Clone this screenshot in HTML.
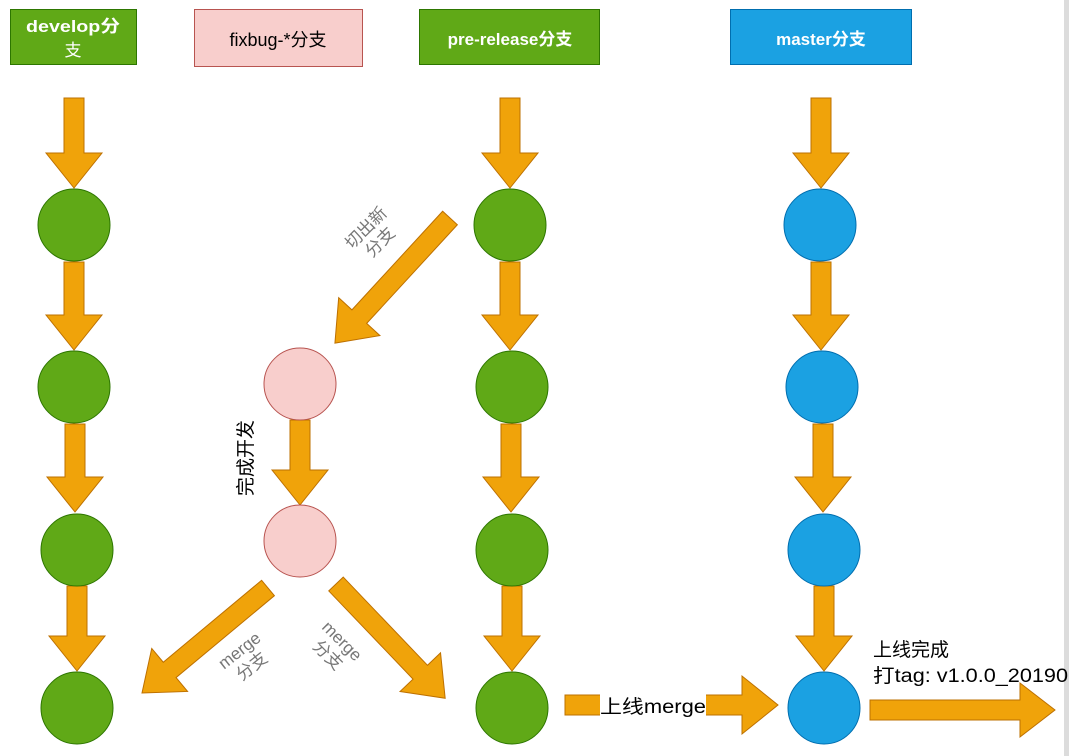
<!DOCTYPE html>
<html><head><meta charset="utf-8"><style>
html,body{margin:0;padding:0;background:#fff;}
svg{display:block;}
text{font-family:"Liberation Sans","Noto Sans CJK SC",sans-serif;}
</style></head><body>
<svg width="1069" height="756" viewBox="0 0 1069 756" xmlns="http://www.w3.org/2000/svg">
<rect x="1064" y="0" width="5" height="756" fill="#dcdcdc"/>
<!-- headers -->
<rect x="10.5" y="9.5" width="126" height="55" fill="#60a917" stroke="#2d7600"/>
<text x="73" y="32" font-size="17" font-weight="bold" fill="#fff" text-anchor="middle" textLength="94" lengthAdjust="spacingAndGlyphs">develop分</text>
<text x="73" y="56" font-size="17" fill="#fff" text-anchor="middle">支</text>
<rect x="194.5" y="9.5" width="168" height="57" fill="#f8cecc" stroke="#b85450"/>
<text x="278" y="46" font-size="18" fill="#000" text-anchor="middle">fixbug-*分支</text>
<rect x="419.5" y="9.5" width="180" height="55" fill="#60a917" stroke="#2d7600"/>
<text x="510" y="45" font-size="17" font-weight="bold" fill="#fff" text-anchor="middle">pre-release分支</text>
<rect x="730.5" y="9.5" width="181" height="55" fill="#1ba1e2" stroke="#006eaf"/>
<text x="821" y="45" font-size="17" font-weight="bold" fill="#fff" text-anchor="middle">master分支</text>

<g fill="#f0a30a" stroke="#bd7000" stroke-width="1">
<g transform="translate(74,98) rotate(90)"><polygon points="0,-10 55,-10 55,-28 90,0 55,28 55,10 0,10"/></g>
<g transform="translate(74,262) rotate(90)"><polygon points="0,-10 53,-10 53,-28 88,0 53,28 53,10 0,10"/></g>
<g transform="translate(75,424) rotate(90)"><polygon points="0,-10 53,-10 53,-28 88,0 53,28 53,10 0,10"/></g>
<g transform="translate(77,586) rotate(90)"><polygon points="0,-10 50,-10 50,-28 85,0 50,28 50,10 0,10"/></g>

<g transform="translate(510,98) rotate(90)"><polygon points="0,-10 55,-10 55,-28 90,0 55,28 55,10 0,10"/></g>
<g transform="translate(510,262) rotate(90)"><polygon points="0,-10 53,-10 53,-28 88,0 53,28 53,10 0,10"/></g>
<g transform="translate(511,424) rotate(90)"><polygon points="0,-10 53,-10 53,-28 88,0 53,28 53,10 0,10"/></g>
<g transform="translate(512,586) rotate(90)"><polygon points="0,-10 50,-10 50,-28 85,0 50,28 50,10 0,10"/></g>

<g transform="translate(821,98) rotate(90)"><polygon points="0,-10 55,-10 55,-28 90,0 55,28 55,10 0,10"/></g>
<g transform="translate(821,262) rotate(90)"><polygon points="0,-10 53,-10 53,-28 88,0 53,28 53,10 0,10"/></g>
<g transform="translate(823,424) rotate(90)"><polygon points="0,-10 53,-10 53,-28 88,0 53,28 53,10 0,10"/></g>
<g transform="translate(824,586) rotate(90)"><polygon points="0,-10 50,-10 50,-28 85,0 50,28 50,10 0,10"/></g>

<g transform="translate(300,420) rotate(90)"><polygon points="0,-10 50,-10 50,-28 85,0 50,28 50,10 0,10"/></g>

<g transform="translate(450,218) rotate(132.6)"><polygon points="0,-10 134,-10 134,-28 170,0 134,28 134,10 0,10"/></g>
<g transform="translate(268,588) rotate(140.2)"><polygon points="0,-10 128,-10 128,-28 164,0 128,28 128,10 0,10"/></g>
<g transform="translate(336,584) rotate(46.3)"><polygon points="0,-10 122,-10 122,-28 158,0 122,28 122,10 0,10"/></g>

<polygon points="565,695 742,695 742,676 778,705 742,734 742,715 565,715"/>
<polygon points="870,700 1020,700 1020,683 1055,710 1020,737 1020,720 870,720"/>
</g>

<g fill="#60a917" stroke="#2d7600">
<circle cx="74" cy="225" r="36"/><circle cx="74" cy="387" r="36"/><circle cx="77" cy="550" r="36"/><circle cx="77" cy="708" r="36"/>
<circle cx="510" cy="225" r="36"/><circle cx="512" cy="387" r="36"/><circle cx="512" cy="550" r="36"/><circle cx="512" cy="708" r="36"/>
</g>
<g fill="#1ba1e2" stroke="#006eaf">
<circle cx="820" cy="225" r="36"/><circle cx="822" cy="387" r="36"/><circle cx="824" cy="550" r="36"/><circle cx="824" cy="708" r="36"/>
</g>
<g fill="#f8cecc" stroke="#b85450">
<circle cx="300" cy="384" r="36"/><circle cx="300" cy="541" r="36"/>
</g>

<g font-size="17" fill="#777" text-anchor="middle">
<text transform="translate(370,232) rotate(-45)"><tspan x="0" y="0">切出新</tspan><tspan x="0" y="20">分支</tspan></text>
<text transform="translate(243,655) rotate(-38)"><tspan x="0" y="0">merge</tspan><tspan x="0" y="20">分支</tspan></text>
<text transform="translate(338,645) rotate(45)"><tspan x="0" y="0">merge</tspan><tspan x="0" y="20">分支</tspan></text>
</g>
<text transform="translate(252,458) rotate(-90)" font-size="19" fill="#000" text-anchor="middle">完成开发</text>
<rect x="600" y="694" width="106" height="22" fill="#fff"/>
<text x="600" y="713" font-size="19" fill="#000" textLength="106" lengthAdjust="spacingAndGlyphs">上线merge</text>
<text x="873" y="656" font-size="19" fill="#000">上线完成</text>
<text x="873" y="682" font-size="19" fill="#000" textLength="195" lengthAdjust="spacingAndGlyphs">打tag: v1.0.0_20190</text>
</svg>
</body></html>
